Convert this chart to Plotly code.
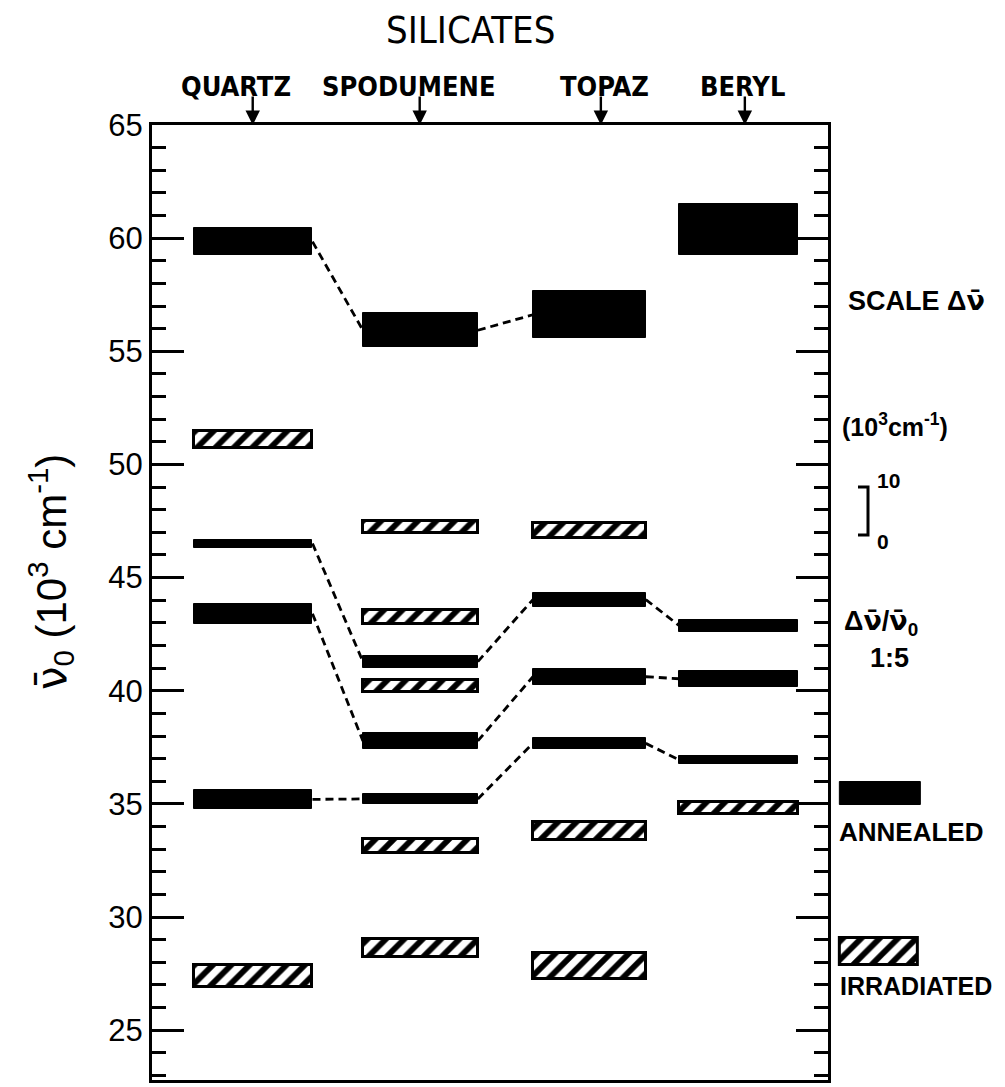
import plotly.graph_objects as go

# ---------------- data ----------------
columns = ["QUARTZ", "SPODUMENE", "TOPAZ", "BERYL"]

# annealed bands: (column index, low, high) in 10^3 cm^-1
annealed_col = [0, 0, 0, 0, 1, 1, 1, 1, 2, 2, 2, 2, 3, 3, 3, 3]
annealed_low = [59.25, 46.33, 42.96, 34.78,
                55.18, 41.02, 37.43, 35.00,
                55.58, 43.72, 40.27, 37.43,
                59.25, 42.61, 40.18, 36.77]
annealed_high = [60.44, 46.68, 43.85, 35.62,
                 56.68, 41.55, 38.14, 35.44,
                 57.65, 44.34, 40.97, 37.92,
                 61.50, 43.14, 40.88, 37.12]

# irradiated bands
irr_col = [0, 0, 1, 1, 1, 1, 1, 2, 2, 2, 3]
irr_low = [50.71, 26.90, 46.99, 42.96, 39.96, 32.85, 28.24, 46.77, 33.40, 27.26, 34.56]
irr_high = [51.50, 27.88, 47.52, 43.58, 40.49, 33.45, 29.03, 47.43, 34.20, 28.40, 35.09]

# dashed correlation links between annealed bands (from index, to index)
link_from = [0, 1, 2, 3, 4, 5, 6, 7, 9, 10, 11]
link_to = [4, 5, 6, 7, 8, 9, 10, 11, 13, 14, 15]

y_ticks = [25, 30, 35, 40, 45, 50, 55, 60, 65]

# ---------------- layout helpers (positions / styles) ----------------
col_center = [1.494, 3.97, 6.47, 8.68]
col_width = [1.76, 1.70, 1.67, 1.76]
arrow_x = [1.49, 3.96, 6.64, 8.77]
label_x = [1.24, 3.80, 6.69, 8.74]

W, H = 1005, 1087
L, R, T, B = 152, 7, 125, 7
plot_w = W - L - R
xdom_end = (828 - L) / plot_w


def px_paper_x(px):
    return (px - L) / plot_w


def px_paper_y(py):
    return (H - B - py) / (H - T - B)


FONT = "Liberation Sans, Arial, Helvetica, sans-serif"
NARROW = "Liberation Sans Narrow, Arial Narrow, DejaVu Sans Condensed, sans-serif"
NUBAR = "<span style='font-family:DejaVu Sans'>ν̄</span>"

HATCH = dict(shape="/", fgcolor="black", bgcolor="white", size=13, solidity=0.45,
             fgopacity=1)

fig = go.Figure()

# annealed bars
fig.add_trace(go.Bar(
    x=[col_center[c] for c in annealed_col],
    y=[h - l for l, h in zip(annealed_low, annealed_high)],
    base=annealed_low,
    width=[col_width[c] for c in annealed_col],
    marker=dict(color="black", line=dict(color="black", width=1)),
    showlegend=False, hoverinfo="skip",
))

# irradiated (hatched) bars
fig.add_trace(go.Bar(
    x=[col_center[c] for c in irr_col],
    y=[h - l for l, h in zip(irr_low, irr_high)],
    base=irr_low,
    width=[col_width[c] for c in irr_col],
    marker=dict(color="white", line=dict(color="black", width=3), pattern=HATCH),
    showlegend=False, hoverinfo="skip",
))

# dashed links
for a, b in zip(link_from, link_to):
    ca, cb = annealed_col[a], annealed_col[b]
    ya = (annealed_low[a] + annealed_high[a]) / 2
    yb = (annealed_low[b] + annealed_high[b]) / 2
    fig.add_trace(go.Scatter(
        x=[col_center[ca] + col_width[ca] / 2, col_center[cb] - col_width[cb] / 2],
        y=[ya, yb], mode="lines",
        line=dict(color="black", width=2.8, dash="8px,5px"),
        showlegend=False, hoverinfo="skip",
    ))

# legend keys on a second x axis in the right margin
fig.add_trace(go.Bar(
    x=[880.5], y=[35.97 - 34.95], base=[34.95], width=[81], xaxis="x2",
    marker=dict(color="black", line=dict(color="black", width=1)),
    showlegend=False, hoverinfo="skip",
))
fig.add_trace(go.Bar(
    x=[878.5], y=[29.07 - 27.88], base=[27.88], width=[78], xaxis="x2",
    marker=dict(color="white", line=dict(color="black", width=3), pattern=HATCH),
    showlegend=False, hoverinfo="skip",
))

annotations = []
# title
annotations.append(dict(text="SILICATES", xref="paper", yref="paper",
                        x=px_paper_x(470), y=px_paper_y(30), showarrow=False,
                        xanchor="center", yanchor="middle",
                        font=dict(family=NARROW, size=38, color="black")))
# column labels and arrows
for name, lx, axx in zip(columns, label_x, arrow_x):
    annotations.append(dict(text="<b>%s</b>" % name, xref="x", yref="paper",
                            x=lx, y=px_paper_y(86), showarrow=False,
                            xanchor="center", yanchor="middle",
                            font=dict(family=NARROW, size=27, color="black")))
    annotations.append(dict(text="", xref="x", yref="paper", x=axx, y=1.0,
                            showarrow=True, ax=0, ay=-30, arrowhead=2,
                            arrowsize=1.2, arrowwidth=2.4, arrowcolor="black",
                            standoff=0))
# y axis title
annotations.append(dict(text=NUBAR + "<sub>0</sub> (10<sup>3</sup> cm<sup>-1</sup>)",
                        xref="paper", yref="paper", x=px_paper_x(50),
                        y=px_paper_y(572), textangle=-90, showarrow=False,
                        xanchor="center", yanchor="middle",
                        font=dict(family=FONT, size=42, color="black")))
# right side texts
right_texts = [
    ("<b>SCALE Δ" + NUBAR + "</b>", 846, 300, 27, "left"),
    ("<b>(10<sup>3</sup>cm<sup>-1</sup>)</b>", 840, 425, 25, "left"),
    ("<b>10</b>", 875, 480, 21, "left"),
    ("<b>0</b>", 875, 541, 21, "left"),
    ("<b>Δ" + NUBAR + "/" + NUBAR + "<sub>0</sub></b>", 842, 622, 27, "left"),
    ("<b>1:5</b>", 889, 658, 27, "center"),
    ("<b>ANNEALED</b>", 837, 832, 26, "left"),
    ("<b>IRRADIATED</b>", 838, 986, 25, "left"),
]
for txt, px, py, sz, anc in right_texts:
    annotations.append(dict(text=txt, xref="paper", yref="paper",
                            x=px_paper_x(px), y=px_paper_y(py), showarrow=False,
                            xanchor=anc, yanchor="middle",
                            font=dict(family=FONT, size=sz, color="black")))

shapes = [dict(type="path", xref="paper", yref="paper",
               path="M %f %f L %f %f L %f %f L %f %f" % (
                   px_paper_x(858), px_paper_y(487), px_paper_x(868), px_paper_y(487),
                   px_paper_x(868), px_paper_y(535), px_paper_x(858), px_paper_y(535)),
               line=dict(color="black", width=3))]

fig.update_layout(
    width=W, height=H,
    margin=dict(l=L, r=R, t=T, b=B, pad=0),
    paper_bgcolor="white", plot_bgcolor="white",
    barmode="overlay", bargap=0,
    annotations=annotations, shapes=shapes,
    xaxis=dict(domain=[0, xdom_end], range=[0, 10], showgrid=False,
               zeroline=False, showticklabels=False, ticks="",
               showline=True, linewidth=3, linecolor="black", mirror=True),
    xaxis2=dict(domain=[xdom_end + 0.001, 1], range=[829, 998], anchor="y",
                showgrid=False, zeroline=False, showticklabels=False,
                showline=False, ticks=""),
    yaxis=dict(range=[22.8, 65], tickvals=y_ticks, showgrid=False,
               zeroline=False, showline=True, linewidth=3, linecolor="black",
               mirror="ticks", ticks="inside", ticklen=32, tickwidth=2.5,
               tickcolor="black",
               minor=dict(ticks="inside", ticklen=14, tickwidth=2.5,
                          tickcolor="black", dtick=1, showgrid=False),
               tickfont=dict(family=FONT, size=31, color="black")),
    font=dict(family=FONT, color="black"),
)

fig.write_html("out.html")
